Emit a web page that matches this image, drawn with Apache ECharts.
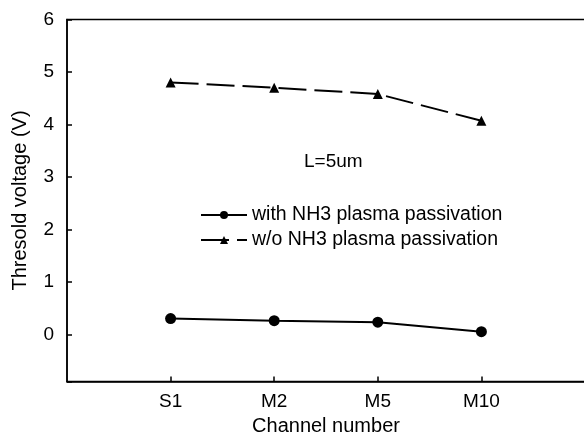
<!DOCTYPE html>
<html>
<head>
<meta charset="utf-8">
<script src="https://cdn.jsdelivr.net/npm/echarts@6/dist/echarts.min.js"></script>
<style>
  html, body { margin: 0; padding: 0; background: #fff; }
  #box { width: 584px; height: 438px; }
</style>
</head>
<body>
<div id="box"></div>
<script>
// 通道
var categories = ['S1', 'M2', 'M5', 'M10']
// 阈值电压
var withNH3 = [0.30, 0.26, 0.23, 0.05]
var withoutNH3 = [4.80, 4.70, 4.58, 4.07]
var yTicks = [0, 1, 2, 3, 4, 5, 6]

var font = 'Liberation Sans, Arial, Helvetica, sans-serif'

// 两端留空位
var xData = [''].concat(categories).concat([''])
function pad(arr) {
  return [null].concat(arr).concat([null])
}

var myChart = echarts.init(document.getElementById('box'))
myChart.setOption({
  animation: false,
  grid: {
    left: 67, top: 19.5, right: -1, bottom: 56.5,
    outerBoundsMode: 'none',
    containLabel: false,
    show: true, borderColor: '#000', borderWidth: 1.5
  },
  legend: {
    orient: 'vertical',
    left: 195,
    top: 200,
    itemWidth: 46,
    itemHeight: 10,
    itemGap: 5,
    textStyle: { fontFamily: font, fontSize: 19.5, color: '#000' },
    data: ['with NH3 plasma passivation', 'w/o NH3 plasma passivation']
  },
  graphic: [{
    type: 'text',
    left: 304,
    top: 152,
    style: { text: 'L=5um', font: '19px ' + font, fill: '#000' }
  }],
  xAxis: {
    type: 'category',
    boundaryGap: false,
    data: xData,
    name: 'Channel number',
    nameLocation: 'middle',
    nameGap: 33,
    nameTextStyle: { fontFamily: font, fontSize: 20, color: '#000' },
    axisLine: { onZero: false, lineStyle: { color: '#000', width: 1.5 } },
    axisTick: {
      inside: true, length: 5,
      interval: function (i, v) { return v !== '' },
      lineStyle: { color: '#000', width: 1.5 }
    },
    axisLabel: { interval: 0, margin: 11, fontFamily: font, fontSize: 19, color: '#000' },
    splitLine: { show: false }
  },
  yAxis: {
    type: 'value',
    min: -0.9,
    max: 6,
    splitNumber: 7,
    name: 'Thresold voltage (V)',
    nameLocation: 'middle',
    nameGap: 37,
    nameTextStyle: { fontFamily: font, fontSize: 20, color: '#000' },
    axisLine: { show: true, lineStyle: { color: '#000', width: 1.5 } },
    axisTick: { show: true, inside: true, length: 5, lineStyle: { color: '#000', width: 1.5 } },
    axisLabel: {
      margin: 13, fontFamily: font, fontSize: 19, color: '#000',
      formatter: function (v) { return yTicks.indexOf(v) >= 0 ? String(v) : '' }
    },
    splitLine: { show: false }
  },
  series: [
    {
      name: 'with NH3 plasma passivation',
      type: 'line',
      data: pad(withNH3),
      symbol: 'circle',
      symbolSize: 11,
      itemStyle: { color: '#000' },
      lineStyle: { color: '#000', width: 2 }
    },
    {
      name: 'w/o NH3 plasma passivation',
      type: 'line',
      data: pad(withoutNH3),
      symbol: 'triangle',
      symbolSize: 10,
      itemStyle: { color: '#000' },
      lineStyle: { color: '#000', width: 2, type: [28, 8] }
    }
  ]
})
</script>
</body>
</html>
